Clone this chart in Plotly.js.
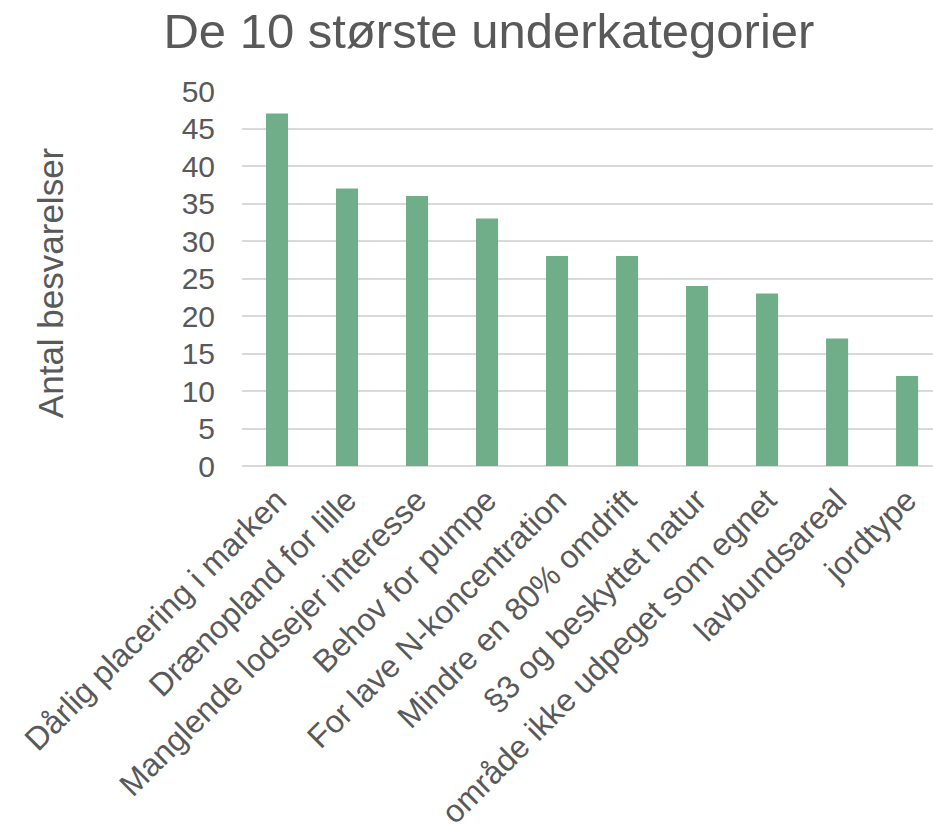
<!DOCTYPE html>
<html>
<head>
<meta charset="utf-8">
<script src="https://cdn.plot.ly/plotly-3.0.1.min.js"></script>
<style>html,body{margin:0;padding:0;background:#fff;}#chart{width:933px;height:824px;}</style>
</head>
<body>
<div id="chart"></div>
<script>
const categories = [
  "Dårlig placering i marken",
  "Drænopland for lille",
  "Manglende lodsejer interesse",
  "Behov for pumpe",
  "For lave N-koncentration",
  "Mindre en 80% omdrift",
  "§3 og beskyttet natur",
  "område ikke udpeget som egnet",
  "lavbundsareal",
  "jordtype"
];
const counts = [47, 37, 36, 33, 28, 28, 24, 23, 17, 12];
const yTicks = [0, 5, 10, 15, 20, 25, 30, 35, 40, 45, 50];

const font = "Liberation Sans, Arial, sans-serif";
const txt = "#595959";

const data = [{
  type: "bar",
  x: categories,
  y: counts,
  marker: {color: "#70AD89"},
  hoverinfo: "x+y"
}];

const layout = {
  width: 933, height: 824,
  margin: {l: 242, r: 0, t: 91, b: 358},
  paper_bgcolor: "#fff", plot_bgcolor: "#fff",
  bargap: 0.685,
  showlegend: false,
  title: {text: "De 10 største underkategorier", font: {family: font, size: 49, color: txt},
          x: 0.524, xanchor: "center", xref: "container", y: 1 - 31/824, yanchor: "middle", yref: "container"},
  xaxis: {
    type: "category",
    range: [-0.5, 9.37],
    tickangle: -45,
    tickfont: {family: font, size: 32, color: txt},
    showgrid: false, zeroline: false, showline: false,
    ticks: "", ticklabelstandoff: 8, automargin: false
  },
  yaxis: {
    range: [0, 50],
    tickvals: yTicks,
    tickfont: {family: font, size: 30, color: txt},
    showgrid: true, gridcolor: "#d9d9d9", gridwidth: 2,
    zeroline: true, zerolinecolor: "#d9d9d9", zerolinewidth: 2,
    showline: false, ticks: "", ticklabelstandoff: 26, automargin: false
  },
  annotations: [{
    text: "Antal besvarelser", textangle: -90,
    xref: "paper", yref: "paper", x: -0.278, y: 0.49, xanchor: "center", yanchor: "middle",
    showarrow: false, font: {family: font, size: 35, color: txt}
  }]
};

Plotly.newPlot("chart", data, layout, {displayModeBar: false, staticPlot: true});
</script>
</body>
</html>
